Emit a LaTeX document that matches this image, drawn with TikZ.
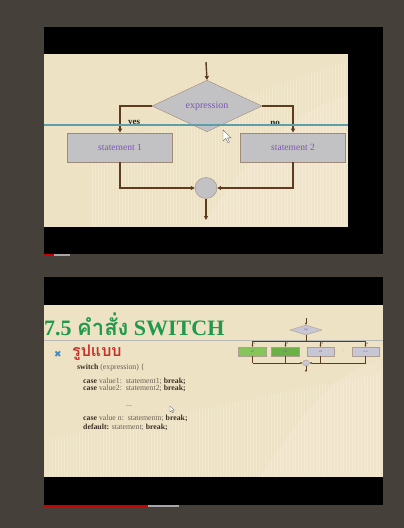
\documentclass[tikz,border=0pt]{standalone}
\usepackage{fontspec}
\setmainfont{Liberation Serif}
\newfontfamily\thaifont[Script=Thai]{Loma}
\newfontfamily\symfont{DejaVu Sans}
\usetikzlibrary{shapes.geometric,arrows.meta,positioning}

\definecolor{framebg}{HTML}{46403A}
\definecolor{slidebg}{HTML}{EEE2C4}
\definecolor{flow}{HTML}{5E3C20}
\definecolor{boxgray}{HTML}{C2C1C4}
\definecolor{labelpurple}{HTML}{7A56B4}
\definecolor{titlegreen}{HTML}{1F9A4C}
\definecolor{headred}{HTML}{C8302A}
\definecolor{bulletblue}{HTML}{3A8CC8}
\definecolor{codegray}{HTML}{6A5F55}
\definecolor{codedark}{HTML}{3B2F26}
\definecolor{minigreen}{HTML}{86C55A}
\definecolor{minigreendk}{HTML}{6CB048}
\definecolor{minibox}{HTML}{C6C6D4}
\definecolor{guide}{HTML}{5C9EAA}

\tikzset{
  flowline/.style={draw=flow, line width=1.4pt},
  flowarrow/.style={flowline, -{Triangle[length=4pt,width=4pt]}},
  cond/.style={diamond, draw=flow!60, fill=boxgray, inner sep=0pt,
    minimum width=110pt, minimum height=44pt,
    font=\fontsize{10}{10}\selectfont, text=labelpurple},
  stmtbox/.style={rectangle, draw=flow!60, fill=boxgray, line width=0.8pt,
    minimum width=105pt, minimum height=29pt,
    font=\fontsize{9.5}{9.5}\selectfont, text=labelpurple},
  joint/.style={ellipse, draw=flow!60, fill=boxgray, inner sep=0pt,
    minimum width=22pt, minimum height=21pt},
  branch/.style={font=\bfseries\fontsize{9}{9}\selectfont, text=black!85},
  code/.style={anchor=west, inner sep=0pt, text=codegray,
    font=\fontsize{7.8}{8}\selectfont},
  miniline/.style={draw=flow, line width=0.7pt},
  miniarrow/.style={miniline, -{Triangle[length=2pt,width=2pt]}},
  minibx/.style={rectangle, draw=flow!50, line width=0.4pt, inner sep=0pt,
    minimum width=28pt, minimum height=9pt,
    font=\fontsize{3}{3}\selectfont, text=labelpurple},
  mininum/.style={font=\fontsize{3}{3}\selectfont, text=black, inner sep=0.5pt},
  pointer/.style={fill=white, draw=black!60, line width=0.4pt},
}

\begin{document}
\begin{tikzpicture}[x=1pt,y=-1pt]
  \useasboundingbox (0,0) rectangle (404,528);
  \fill[framebg] (0,0) rectangle (404,528);

  % upper player
  \fill[black] (44,27) rectangle (383,254);
  \fill[slidebg] (44,54) rectangle (348,227);
  \fill[white, opacity=0.12] (200,227) .. controls (260,140) and (300,110) .. (348,95) -- (348,227) -- cycle;
  \foreach \x in {92,95,...,346}
    \draw[white, opacity=0.22, line width=0.8pt] (\x,{max(56,150-0.35*(\x-92))}) -- (\x,226);
  \fill[red!80!black] (44,254) rectangle (54,256);
  \fill[gray!70] (54,254) rectangle (70,256);

  \coordinate (top) at (206,62);
  \coordinate (bottom) at (206,220);
  \node[cond] (expr) at (207,106) {expression};
  \node[stmtbox] (st1) at (120,147.5) {statement 1};
  \node[stmtbox] (st2) at (293,147.5) {statement 2};
  \node[joint] (join) at (206,188) {};

  \draw[flowarrow] (top) -- (expr.north);
  \draw[flowarrow] (expr.west) -| (st1.north) node[branch, pos=0.82, right=4pt] {yes};
  \draw[flowarrow] (expr.east) -| (st2.north) node[branch, pos=0.82, left=9pt] {no};
  \draw[flowarrow] (st1.south) |- (join.west);
  \draw[flowarrow] (st2.south) |- (join.east);
  \draw[flowarrow] (join.south) -- (bottom);

  \draw[guide, line width=1.2pt] (44,125) -- (348,125);
  \draw[pointer] (223,130) -- (223,141) -- (225.8,138.4) -- (227.8,142.6)
    -- (229.4,141.9) -- (227.5,137.8) -- (231,137.8) -- cycle;

  % lower player
  \fill[black] (44,277) rectangle (383,505);
  \fill[slidebg] (44,305) rectangle (383,477);
  \fill[white, opacity=0.12] (260,477) .. controls (310,400) and (340,370) .. (383,360) -- (383,477) -- cycle;
  \foreach \x in {46,49,...,380}
    \draw[white, opacity=0.22, line width=0.8pt] (\x,{max(372,440-0.2*(\x-46))}) -- (\x,476);
  \fill[red!80!black] (44,505) rectangle (148,507);
  \fill[gray!70] (148,505) rectangle (179,507);

  \draw[gray!55, line width=0.8pt] (44,340) -- (383,340);
  \node[anchor=base west, inner sep=0pt, text=titlegreen,
    font=\bfseries\fontsize{22}{22}\selectfont] (title) at (44,335)
    {7.5 {\thaifont คำสั่ง} SWITCH};
  \node[text=bulletblue, inner sep=0pt, font=\symfont\fontsize{9}{9}\selectfont]
    (bullet) at (58,354) {✖};
  \node[anchor=west, inner sep=0pt, text=headred,
    font=\thaifont\bfseries\fontsize{16}{16}\selectfont] (head) at (72,353) {รูปแบบ};

  \node[code] (line1) at (77,368) {\textcolor{codedark}{\textbf{switch}} (expression) \{};
  \node[code] (line2) at (83,381) {\textcolor{codedark}{\textbf{case}} value1:\ \ statement1; \textcolor{codedark}{\textbf{break;}}};
  \node[code] (line3) at (83,388.5) {\textcolor{codedark}{\textbf{case}} value2:\ \ statement2; \textcolor{codedark}{\textbf{break;}}};
  \node[code] (line4) at (126,406) {...};
  \node[code] (line5) at (83,418) {\textcolor{codedark}{\textbf{case}} value n:\ \ statementn; \textcolor{codedark}{\textbf{break;}}};
  \node[code] (line6) at (83,427) {\textcolor{codedark}{\textbf{default:}} statement; \textcolor{codedark}{\textbf{break;}}};
  \draw[pointer, line width=0.3pt] (170,406) -- (170,412) -- (171.5,410.6) -- (172.6,412.8)
    -- (173.5,412.4) -- (172.4,410.2) -- (174.3,410.2) -- cycle;

  % small switch chart
  \coordinate (mtop) at (306,318);
  \coordinate (mbus) at (306,341);
  \coordinate (mlow) at (306,363);
  \coordinate (mend) at (306,372);
  \node[diamond, draw=flow!50, fill=minibox, line width=0.4pt, inner sep=0pt,
    minimum width=32pt, minimum height=10pt,
    font=\fontsize{3}{3}\selectfont, text=labelpurple] (mexp) at (306,330) {exp};
  \node[minibx, fill=minigreen] (mbox1) at (252.5,351.5) {st1};
  \node[minibx, fill=minigreendk] (mbox2) at (285.5,351.5) {st2};
  \node[minibx, fill=minibox, minimum width=27pt] (mbox3) at (320.5,351.5) {st3};
  \node[minibx, fill=minibox, minimum width=27pt] (mboxn) at (365.5,351.5) {st n};
  \node[mininum, text=codegray] (mdots) at (343,351.5) {...};
  \node[ellipse, draw=flow!50, fill=minibox, line width=0.4pt, inner sep=0pt,
    minimum width=7pt, minimum height=6pt] (mjoin) at (mlow) {};

  \draw[miniarrow] (mtop) -- (mexp.north);
  \draw[miniline] (mexp.south) -- (mbus);
  \draw[miniline] (mbox1.north |- mbus) -- (mboxn.north |- mbus);
  \foreach \b/\k in {mbox1/1, mbox2/2, mbox3/3, mboxn/n}
    \draw[miniarrow] (\b.north |- mbus) -- (\b.north)
      node[mininum, pos=0.4, right=0pt] {\k};
  \foreach \b in {mbox1, mbox2, mbox3, mboxn}
    \draw[miniline] (\b.south) -- (\b.south |- mlow);
  \draw[miniarrow] (mbox1.south |- mlow) -- (mjoin.west);
  \draw[miniarrow] (mboxn.south |- mlow) -- (mjoin.east);
  \draw[miniarrow] (mjoin.south) -- (mend);
\end{tikzpicture}
\end{document}
